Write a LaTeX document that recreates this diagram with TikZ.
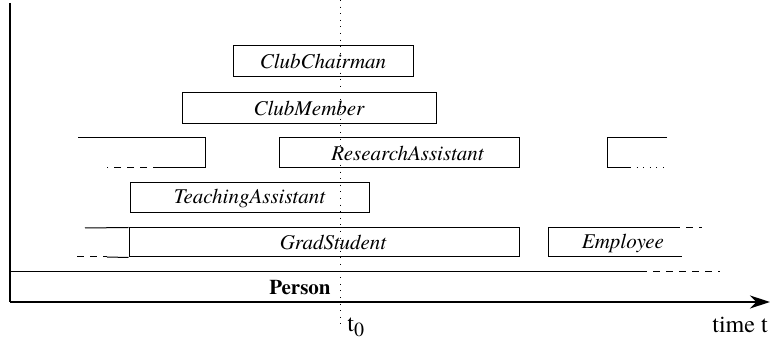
\documentclass[tikz,border=0pt]{standalone}
\usepackage{fontspec}
\setmainfont{texgyretermes}[
  Extension=.otf,
  UprightFont=*-regular,
  BoldFont=*-bold,
  ItalicFont=*-italic,
  BoldItalicFont=*-bolditalic]
\usetikzlibrary{arrows.meta}

\newcommand{\rolesize}{\fontsize{10.5}{12.6}\selectfont}

\begin{document}
\begin{tikzpicture}[
                x=0.5pt, y=-0.5pt,
                role/.style={
                        rectangle,
                        draw,
                        inner sep=0pt,
                        line width=0.5pt,
                        font=\rolesize\itshape
                    },
                trace/.style={line width=0.5pt},
                gap/.style={line width=0.5pt, dash pattern=on 3.5pt off 3pt},
                dots/.style={line width=0.5pt, dash pattern=on 0.5pt off 2.8pt},
                axis/.style={line width=0.8pt}
            ]
            \useasboundingbox (0,0) rectangle (773,341);

            % Rollen als Kästen, von Hand platziert
            \node[role, minimum width=90pt, minimum height=15.5pt] (chairman) at (323,61.5) {ClubChairman};
            \node[role, minimum width=127pt, minimum height=15.5pt] (member) at (309,108.5) {ClubMember};
            \node[role, minimum width=120pt, minimum height=15pt] (research) at (399,153) {\hspace*{8.5pt}ResearchAssistant};
            \node[role, minimum width=119.5pt, minimum height=15pt] (teaching) at (249.5,198) {TeachingAssistant};
            \node[role, minimum width=195pt, minimum height=14.5pt] (grad) at (324,242.5) {\hspace*{9pt}GradStudent};
            \node[font=\rolesize\itshape] (employee) at (623,243) {Employee};
            \node[font=\rolesize\bfseries, anchor=base east, inner sep=0pt] (person) at (331,295) {Person};

            % offene Abschnitte
            \draw[trace] (78,138) -- (205,138) -- (205,168) -- (160,168);
            \draw[gap] (160,168) -- (107,168);
            \draw[trace] (667,138) -- (607,138) -- (607,168) -- (630,168);
            \draw[dots] (630,168) -- (667,168);
            \draw[trace] (85,228) -- (grad.north west);
            \draw[trace] (107,257) -- (grad.south west);
            \draw[gap] (77,257) -- (107,257);
            \draw[trace] (673,228) -- (548,228) -- (548,257) -- (682,257);
            \draw[gap] (673,228) -- (702,228);
            \draw[trace] (10,272) -- (640,272);
            \draw[gap] (640,272) -- (720,272);

            % Achsen
            \coordinate (origin) at (10,302);
            \coordinate (top) at (10,3);
            \coordinate (tend) at (770,302);
            \draw[axis] (top) -- (origin);
            \draw[axis, -{Stealth[length=10pt, width=6.5pt]}] (origin) -- (tend);
            \node[font=\large, anchor=base west, inner sep=0pt] (timet) at (712,333) {time t};

            % Zeitpunkt t0
            \coordinate (nowtop) at (340,0);
            \coordinate (nowbot) at (340,325);
            \draw[dots] (nowtop) -- (nowbot);
            \node[font=\large, anchor=base west, inner sep=0pt] (tzero) at (347,332) {t\raisebox{-0.45ex}{\normalsize 0}};

        \end{tikzpicture}
\end{document}
